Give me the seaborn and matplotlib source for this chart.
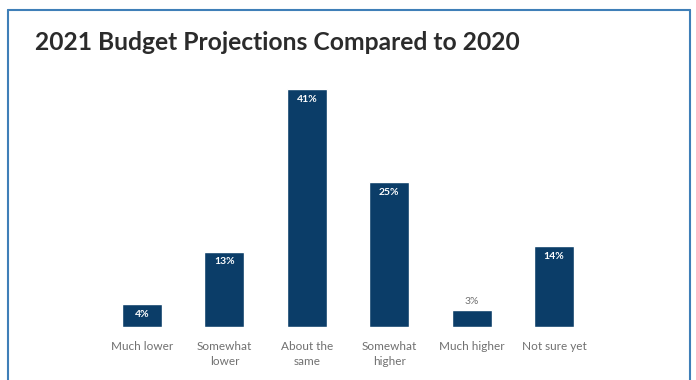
import matplotlib
matplotlib.use("Agg")
import matplotlib.pyplot as plt
import seaborn as sns
import pandas as pd
from matplotlib.lines import Line2D

categories = ["Much lower", "Somewhat\nlower", "About the\nsame", "Somewhat\nhigher", "Much higher", "Not sure yet"]
values = [4, 13, 41, 25, 3, 14]
value_labels = ["4%", "13%", "41%", "25%", "3%", "14%"]

df = pd.DataFrame({"category": categories, "value": values})

sns.set_theme(style="white")
plt.rcParams['font.family'] = ['Lato', 'DejaVu Sans']

W, H = 696, 380
fig = plt.figure(figsize=(W / 100, H / 100), dpi=100)
ax_left = 100.8 / W
ax_width = (595.2 - 100.8) / W
ax_bottom = (H - 327) / H
ax_height = 261 / H
ax = fig.add_axes([ax_left, ax_bottom, ax_width, ax_height])

bar_color = "#0b3d68"
sns.barplot(data=df, x="category", y="value", color=bar_color, width=0.485,
            saturation=1, ax=ax)
ax.set_xlim(-0.5, 5.5)
ax.set_ylim(0, 45)
ax.set_xlabel("")
ax.set_ylabel("")
ax.set_yticks([])
for s in ax.spines.values():
    s.set_visible(False)
ax.tick_params(axis="x", length=0, pad=10, labelsize=8.5, labelcolor="#707070")
for t in ax.get_xticklabels():
    t.set_linespacing(1.45)

for i, (v, lab) in enumerate(zip(values, value_labels)):
    if v >= 4:
        ax.text(i, v - 1.0, lab, ha="center", va="top", color="white",
                fontsize=7.5, fontweight="bold")
    else:
        ax.text(i, v + 0.6, lab, ha="center", va="bottom", color="#707070",
                fontsize=7.5)

fig.text(35 / W, 1 - 43 / H, "2021 Budget Projections Compared to 2020",
         ha="left", va="center", fontsize=17.7, fontweight="bold", color="#2b2b2b")

border = "#3f7fb8"
x0, x1 = 7.5 / W, 689.5 / W
y0 = 1 - 10 / H
fig.add_artist(Line2D([x0, x0], [0, y0], color=border, lw=1.5, transform=fig.transFigure))
fig.add_artist(Line2D([x0, x1], [y0, y0], color=border, lw=1.5, transform=fig.transFigure))
fig.add_artist(Line2D([x1, x1], [0, y0], color=border, lw=1.5, transform=fig.transFigure))

fig.savefig("out.png", dpi=100)
